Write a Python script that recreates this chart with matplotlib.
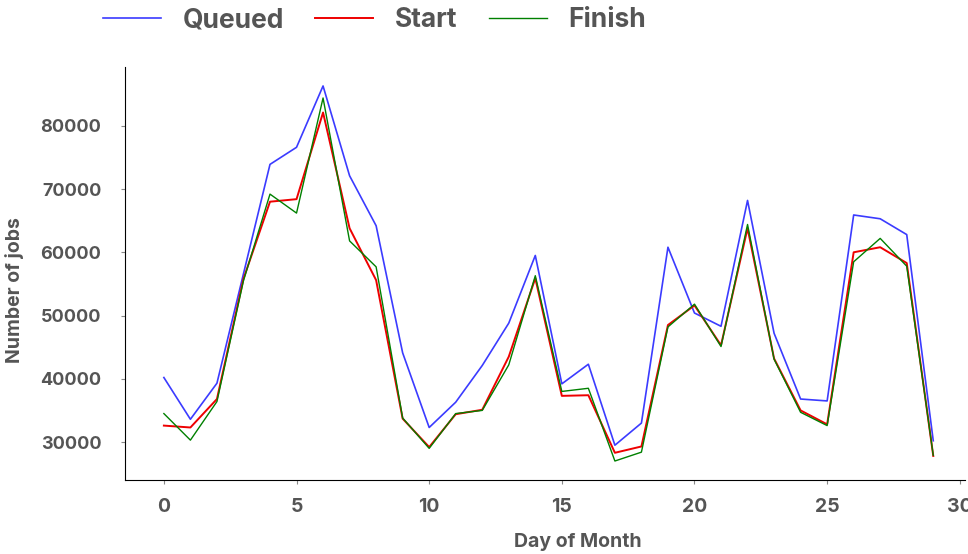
import matplotlib
matplotlib.use("Agg")
import matplotlib.pyplot as plt

# day of month
dias = list(range(30))

# number of jobs per day
queued = [40200, 33600, 39300, 56600, 73900, 76600, 86300, 72100, 64200, 44100,
          32300, 36300, 42100, 48800, 59500, 39200, 42300, 29500, 33000, 60800,
          50400, 48300, 68200, 47200, 36800, 36500, 65900, 65300, 62800, 30200]
start = [32600, 32300, 36800, 55800, 68000, 68400, 82100, 63800, 55600, 33700,
         29200, 34400, 35100, 43500, 55900, 37300, 37400, 28300, 29300, 48500,
         51600, 45300, 63800, 43200, 35000, 32800, 60000, 60800, 58300, 27800]
finish = [34500, 30300, 36400, 55500, 69200, 66200, 84400, 61800, 57700, 33800,
          29000, 34500, 35000, 42200, 56300, 38000, 38500, 27000, 28400, 48200,
          51800, 45100, 64400, 43100, 34700, 32600, 58500, 62200, 57800, 27900]

cinza = "#555555"
plt.rcParams['font.family'] = ['Inter', 'DejaVu Sans']
plt.rcParams['font.weight'] = 'bold'

fig = plt.figure(figsize=(9.68, 5.54), dpi=100)
ax = fig.add_axes([0.129, 0.1336, 0.868, 0.7455])

ax.plot(dias, queued, color="#3b3bff", linewidth=1.2, label="Queued")
ax.plot(dias, start, color="#ee0000", linewidth=1.4, label="Start")
ax.plot(dias, finish, color="green", linewidth=1.0, label="Finish")

ax.set_xlim(-1.47, 30.2)
ax.set_ylim(24000, 89300)
ax.set_xticks([0, 5, 10, 15, 20, 25, 30])
ax.set_yticks([30000, 40000, 50000, 60000, 70000, 80000])

ax.spines['top'].set_visible(False)
ax.spines['right'].set_visible(False)
ax.tick_params(axis='both', length=3, width=0.8, colors="#888888", labelcolor=cinza)
ax.tick_params(axis='x', labelsize=14, pad=10)
ax.tick_params(axis='y', labelsize=13, pad=14)
for lbl in ax.get_xticklabels() + ax.get_yticklabels():
    lbl.set_fontweight('bold')

ax.set_xlabel("Day of Month", fontsize=14, fontweight='bold', color=cinza)
ax.set_ylabel("Number of jobs", fontsize=14, fontweight='bold', color=cinza)
ax.xaxis.set_label_coords(0.539, -0.128)
ax.yaxis.set_label_coords(-0.120, 0.46)

leg = fig.legend(loc='center left', bbox_to_anchor=(0.082, 0.963), ncol=3, frameon=False,
                 handlelength=2.2, columnspacing=1.2, handletextpad=0.8,
                 prop={'size': 19, 'weight': 'bold'})
for t in leg.get_texts():
    t.set_color(cinza)

fig.savefig("out.png", dpi=100)
